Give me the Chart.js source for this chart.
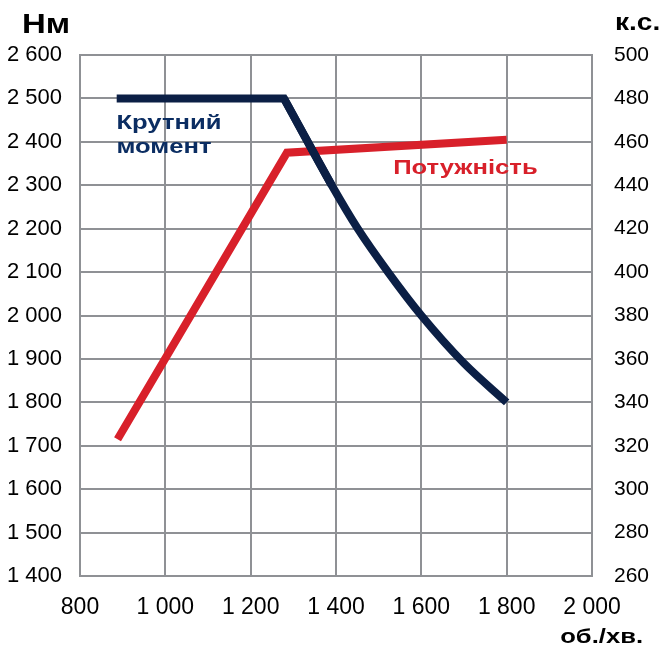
<!DOCTYPE html>
<html>
<head>
<meta charset="utf-8">
<script src="https://cdn.jsdelivr.net/npm/chart.js@4.4.1/dist/chart.umd.min.js"></script>
<style>
html,body{margin:0;padding:0;background:#fff;}
#wrap{width:665px;height:648px;position:relative;}
</style>
</head>
<body>
<div id="wrap"><canvas id="c" width="665" height="648"></canvas></div>
<script>
// ---- data ----
const torqueRpm = [886, 1278, 1390, 1451, 1522, 1600, 1700, 1800];
const torqueNm  = [2500, 2500, 2300, 2200, 2100, 2000, 1890, 1800];
const powerRpm  = [888, 1285, 1800];
const powerHp   = [323, 455, 461];
const xTickLabels = ['800', '1 000', '1 200', '1 400', '1 600', '1 800', '2 000'];
const yLeftTickLabels = ['1 400','1 500','1 600','1 700','1 800','1 900','2 000','2 100','2 200','2 300','2 400','2 500','2 600'];
const yRightTickLabels = ['260','280','300','320','340','360','380','400','420','440','460','480','500'];
const torqueLabel = ['Крутний', 'момент'];
const powerLabel = 'Потужність';
const leftUnit = 'Нм';
const rightUnit = 'к.с.';
const xUnit = 'об./хв.';

const navy = '#0b1f45';
const navyText = '#0b2d62';
const red = '#d8202a';
const gridCol = '#8f9195';
const FONT = 'Liberation Sans, Arial, sans-serif';
const SX = 1.22; // horizontal stretch of bold captions

// torque: flat part + knee drawn straight, falling part drawn smooth
const kneeIdx = 1;
const torqueFlat = torqueRpm.slice(0, kneeIdx + 2).map((x, i) => ({x, y: torqueNm[i]}));
const torqueCurve = torqueRpm.slice(kneeIdx).map((x, i) => ({x, y: torqueNm[i + kneeIdx]}));
const powerData = powerRpm.map((x, i) => ({x, y: powerHp[i]}));

function drawText(ctx, text, x, y, sx, align) {
  const w = ctx.measureText(text).width * sx;
  const left = align === 'right' ? x - w : x;
  ctx.save();
  ctx.translate(left, y);
  ctx.scale(sx, 1);
  ctx.textAlign = 'left';
  ctx.fillText(text, 0, 0);
  ctx.restore();
}

const textPlugin = {
  id: 'texts',
  afterDraw(chart) {
    const ctx = chart.ctx;
    const xs = chart.scales.x, yl = chart.scales.y, yr = chart.scales.y2;
    ctx.save();
    ctx.textBaseline = 'alphabetic';
    ctx.fillStyle = '#000';
    ctx.font = 'bold 27px ' + FONT;
    drawText(ctx, leftUnit, 22, 33, SX, 'left');
    ctx.font = 'bold 23px ' + FONT;
    drawText(ctx, rightUnit, 615, 30, SX, 'left');
    ctx.font = 'bold 21px ' + FONT;
    drawText(ctx, xUnit, 643, 643, SX, 'right');
    // series labels
    ctx.font = 'bold 21px ' + FONT;
    ctx.fillStyle = navyText;
    const tx = xs.getPixelForValue(890) - 2;
    const ty = yl.getPixelForValue(2430);
    drawText(ctx, torqueLabel[0], tx, ty, SX, 'left');
    drawText(ctx, torqueLabel[1], tx, ty + 24.5, SX, 'left');
    ctx.fillStyle = red;
    drawText(ctx, powerLabel, xs.getPixelForValue(1534), yr.getPixelForValue(445), SX, 'left');
    ctx.restore();
  }
};

new Chart(document.getElementById('c'), {
  type: 'line',
  data: {
    datasets: [
      {
        label: 'Крутний момент',
        data: torqueFlat,
        borderColor: navy,
        borderWidth: 8,
        pointRadius: 0,
        tension: 0,
        fill: false,
        yAxisID: 'y'
      },
      {
        label: 'Крутний момент (крива)',
        data: torqueCurve,
        borderColor: navy,
        borderWidth: 8,
        pointRadius: 0,
        cubicInterpolationMode: 'monotone',
        fill: false,
        yAxisID: 'y'
      },
      {
        label: 'Потужність',
        data: powerData,
        borderColor: red,
        borderWidth: 8,
        pointRadius: 0,
        tension: 0,
        fill: false,
        yAxisID: 'y2'
      }
    ]
  },
  options: {
    responsive: false,
    animation: false,
    devicePixelRatio: 1,
    layout: { padding: { top: 55, left: 0, right: 0, bottom: 0 } },
    plugins: { legend: { display: false }, tooltip: { enabled: false } },
    scales: {
      x: {
        type: 'linear',
        min: 800, max: 2000,
        afterFit(s) { s.height = 72; },
        ticks: {
          stepSize: 200,
          color: '#000',
          font: { family: FONT, size: 23 },
          padding: 18,
          maxRotation: 0,
          callback: (v) => xTickLabels[Math.round((v - 800) / 200)]
        },
        grid: { color: gridCol, lineWidth: 2, drawTicks: false },
        border: { color: gridCol, width: 2 }
      },
      y: {
        position: 'left',
        min: 1400, max: 2600,
        afterFit(s) { s.width = 80; },
        ticks: {
          stepSize: 100,
          color: '#000',
          font: { family: FONT, size: 22 },
          padding: 18,
          callback: (v) => yLeftTickLabels[Math.round((v - 1400) / 100)]
        },
        grid: { color: gridCol, lineWidth: 2, drawTicks: false },
        border: { color: gridCol, width: 2 }
      },
      y2: {
        position: 'right',
        min: 260, max: 500,
        afterFit(s) { s.width = 73; },
        ticks: {
          stepSize: 20,
          color: '#000',
          font: { family: FONT, size: 21 },
          padding: 22,
          callback: (v) => yRightTickLabels[Math.round((v - 260) / 20)]
        },
        grid: { display: false, drawTicks: false },
        border: { color: gridCol, width: 2 }
      }
    }
  },
  plugins: [textPlugin]
});
</script>
</body>
</html>
